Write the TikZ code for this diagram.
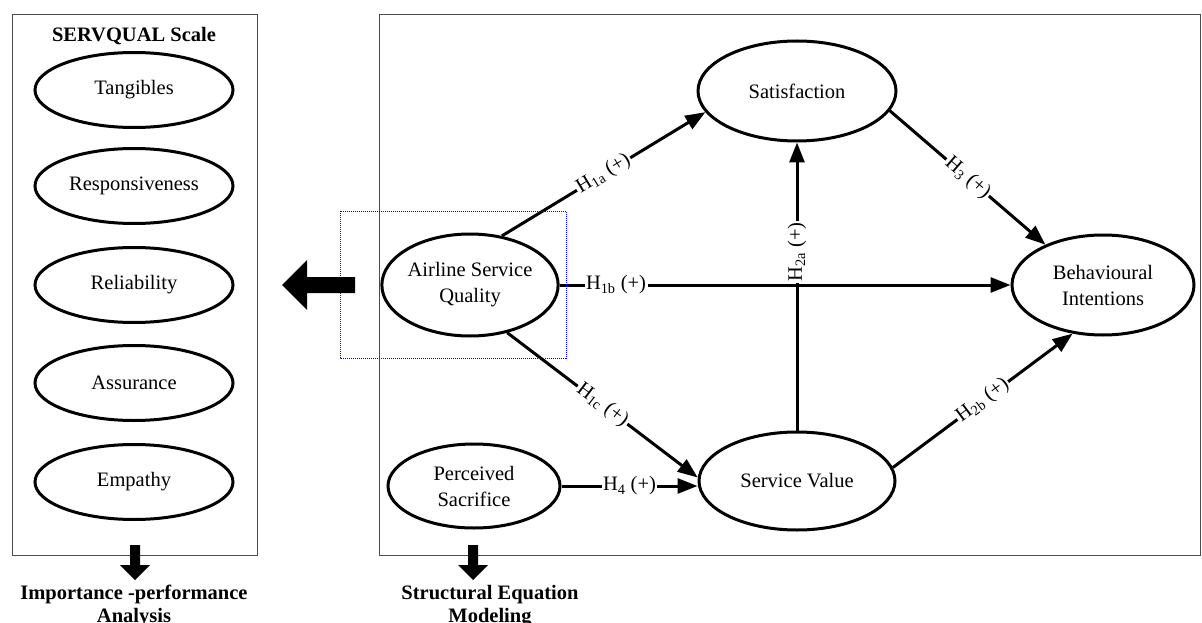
\documentclass[tikz,border=0pt]{standalone}
\usepackage{fontspec}
\setmainfont{Liberation Serif}
\usetikzlibrary{shapes.geometric,arrows.meta}
\begin{document}
\begin{tikzpicture}[x=1pt,y=-1pt,
  font=\fontsize{20.5}{26}\selectfont,
  latent/.style={draw, ellipse, line width=3pt, inner sep=0pt, align=center},
  frame/.style={draw=black!70, line width=1pt},
  causal/.style={line width=3pt, -{Triangle[length=20pt,width=15pt]}},
  hyp/.style={sloped, fill=white, inner sep=1.5pt},
  caption/.style={font=\fontsize{20.5}{23}\selectfont\bfseries, anchor=base}
]
\useasboundingbox (0,0) rectangle (1202,623);

% frames
\draw[frame] (12,15) rectangle (257,555);
\draw[frame] (379,15) rectangle (1200.5,555);

% SERVQUAL side
\node[font=\fontsize{20.5}{26}\selectfont\bfseries] (title) at (134,36) {SERVQUAL Scale};
\node[latent, minimum width=198pt, minimum height=75pt] (tan) at (134,90) {Tangibles};
\node[latent, minimum width=198pt, minimum height=75pt] (res) at (134,186) {Responsiveness};
\node[latent, minimum width=198pt, minimum height=75pt] (rel) at (134,285) {Reliability};
\node[latent, minimum width=198pt, minimum height=75pt] (ass) at (134,383) {Assurance};
\node[latent, minimum width=198pt, minimum height=75pt] (emp) at (134,482) {Empathy};

% model side
\node[latent, minimum width=198pt, minimum height=100pt] (sat) at (797,91) {Satisfaction};
\node[latent, minimum width=182pt, minimum height=100pt] (bi) at (1103,285) {Behavioural\\Intentions};
\node[latent, minimum width=174pt, minimum height=102pt] (asq) at (470,285) {Airline Service\\Quality};
\node[latent, minimum width=172pt, minimum height=84pt] (ps) at (474,486) {Perceived\\Sacrifice};
\node[latent, minimum width=196pt, minimum height=98pt] (sv) at (797,481) {Service Value};

% paths
\draw[causal] (sv.north) -- node[hyp, pos=0.62] {H\textsubscript{2a} (+)} (sat.south);
\draw[causal] (asq.57) -- node[hyp] {H\textsubscript{1a} (+)} (sat.193);
\draw[causal] (asq.east) -- node[hyp, pos=0.125] {H\textsubscript{1b} (+)} (bi.west);
\draw[causal] (asq.-52) -- node[hyp] {H\textsubscript{1c} (+)} (sv.178);
\draw[causal] (sat.-12) -- node[hyp] {H\textsubscript{3} (+)} (bi.145);
\draw[causal] (sv.8) -- node[hyp] {H\textsubscript{2b} (+)} (bi.238);
\draw[causal] (ps.east) -- node[hyp] {H\textsubscript{4} (+)} (ps.east -| sv.west);

% dotted selection box
\draw[blue, densely dotted, line width=1pt] (340,211) rectangle (566,358);

% block arrows
\fill (282,285) -- (307,260) -- (307,277) -- (355,277) -- (355,293) -- (307,293) -- (307,310) -- cycle;
\fill (130,545) -- (140,545) -- (140,565) -- (150,565) -- (135,580) -- (120,565) -- (130,565) -- cycle;
\fill (468,545) -- (478,545) -- (478,565) -- (488,565) -- (473,580) -- (458,565) -- (468,565) -- cycle;

% captions
\node[caption] (ipa1) at (134,599) {Importance -performance};
\node[caption] (ipa2) at (134,622) {Analysis};
\node[caption] (sem1) at (490,599) {Structural Equation};
\node[caption] (sem2) at (490,622) {Modeling};
\end{tikzpicture}
\end{document}
